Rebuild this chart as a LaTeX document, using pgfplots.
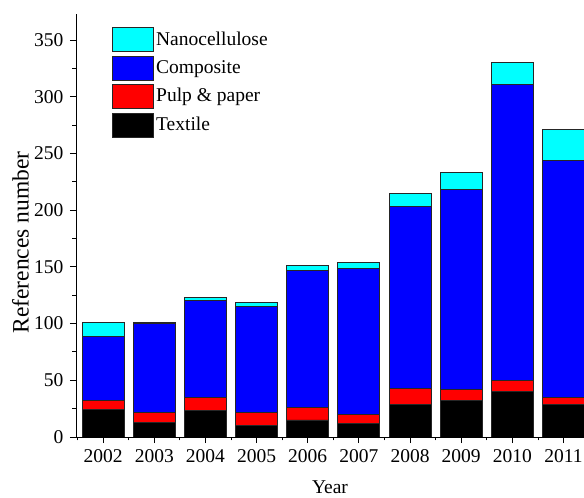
\documentclass[border=0pt]{standalone}
\usepackage{fontspec}
\setmainfont{Liberation Serif}
\usepackage{pgfplots}
\usepackage{pgfplotstable}
\pgfplotsset{compat=1.18}

\definecolor{nanocyan}{RGB}{0,255,255}
\definecolor{compblue}{RGB}{0,0,255}
\definecolor{pulpred}{RGB}{255,0,0}

% Literature references per year, split by application field
\pgfplotstableread{
x  Textile Pulp Composite Nano
0  24      8    57        12
1  13      9    78        1
2  23      12   85        3
3  10      12   93        4
4  15      11   121       4
5  12      8    129       5
6  29      14   160       12
7  32      10   176       15
8  40      10   261       19
9  29      6    209       27
}\refdata

\pgfplotsset{
  boxlegend/.style={
    legend image code/.code={
      \draw[##1,draw=black!85,line width=0.9pt] (0pt,-12pt) rectangle (41pt,12pt);
    }
  }
}

\begin{document}
\fontsize{19.5}{22}\selectfont
\begin{tikzpicture}
\begin{axis}[
  scale only axis,
  width=508pt, height=423pt,
  ybar stacked,
  bar width=42pt,
  xmin=-0.53, xmax=9.4,
  ymin=0, ymax=373,
  axis lines=left,
  axis line style={-, line width=0.9pt},
  xtick={0,...,9},
  xticklabels={2002,2003,2004,2005,2006,2007,2008,2009,2010,2011},
  minor xtick={-0.5,0.5,...,8.5},
  ytick={0,50,...,350},
  minor ytick={25,75,...,375},
  tick align=outside,
  major tick length=6pt,
  minor tick length=3.5pt,
  tick style={black, line width=0.9pt},
  /pgf/number format/assume math mode=true,
  xlabel={Year},
  ylabel={References number},
  xlabel style={yshift=-5pt},
  ylabel style={font=\fontsize{23.5}{26}\selectfont, yshift=-8pt, xshift=-17pt},
  reverse legend,
  legend cell align=left,
  legend style={draw=none, fill=none, at={(0.071,0.969)}, anchor=north west,
    inner sep=0pt, row sep=3.5pt,
    /tikz/every even column/.append style={column sep=5pt}},
  clip=true,
]
\addplot[fill=black, draw=black!85, line width=0.9pt, boxlegend]
  table[x=x, y=Textile] {\refdata};
\addplot[fill=pulpred, draw=black!85, line width=0.9pt, boxlegend]
  table[x=x, y=Pulp] {\refdata};
\addplot[fill=compblue, draw=black!85, line width=0.9pt, boxlegend]
  table[x=x, y=Composite] {\refdata};
\addplot[fill=nanocyan, draw=black!85, line width=0.9pt, boxlegend]
  table[x=x, y=Nano] {\refdata};
\legend{Textile, Pulp \& paper, Composite, Nanocellulose}
\coordinate (bl) at (rel axis cs:0,0);
\coordinate (tr) at (rel axis cs:1,1);
\end{axis}
\pgfresetboundingbox
\path ([xshift=-76pt,yshift=-61pt]bl) rectangle ([yshift=14pt]tr);
\end{tikzpicture}
\end{document}
